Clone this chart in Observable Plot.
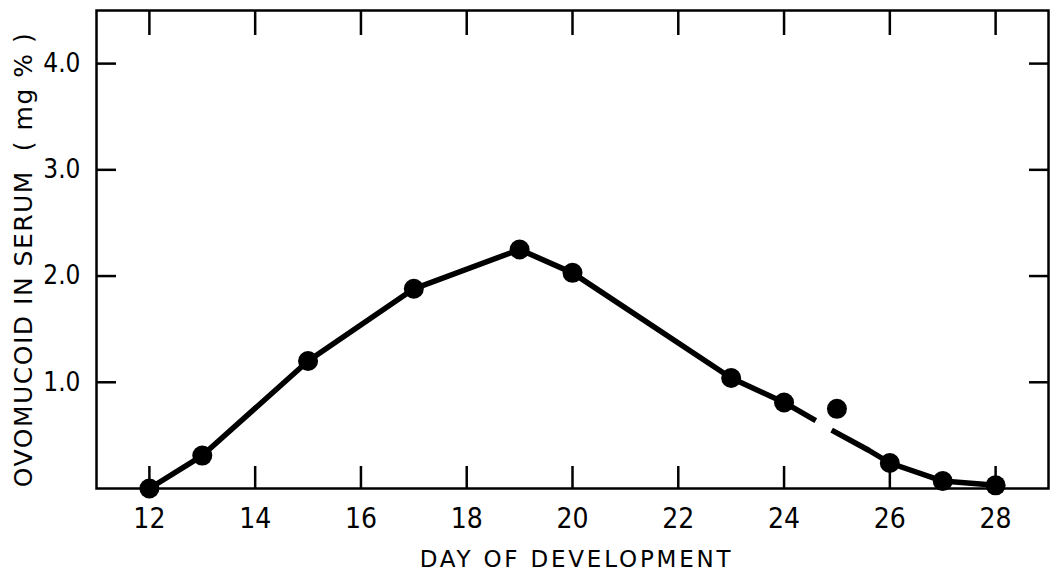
<!DOCTYPE html>
<html><head><meta charset="utf-8">
<script src="https://cdn.jsdelivr.net/npm/d3@7"></script>
<script src="https://cdn.jsdelivr.net/npm/@observablehq/plot@0.6"></script>
<style>body{margin:0;background:#fff}</style>
</head><body><div id="chart"></div>
<script>
// Measured points (day of development, ovomucoid mg %)
const days = [12, 13, 15, 17, 19, 20, 23, 24, 25, 26, 27, 28];
const ovomucoid = [0.00, 0.31, 1.20, 1.88, 2.25, 2.03, 1.04, 0.81, 0.75, 0.24, 0.07, 0.03];
// Drawn curve (passes below the day-25 point, with a break near it)
const curveDays = [12, 13, 15, 17, 19, 20, 23, 24, 24.6, 24.75, 24.9, 25.6, 26, 27, 28];
const curveValues = [0.00, 0.31, 1.20, 1.88, 2.25, 2.03, 1.04, 0.81, 0.64, NaN, 0.55, 0.36, 0.24, 0.07, 0.03];
const xTicks = [12, 14, 16, 18, 20, 22, 24, 26, 28];
const yTicks = [1, 2, 3, 4];
const yTickLabels = ["1.0", "2.0", "3.0", "4.0"];
const xTitle = "DAY OF DEVELOPMENT";
const yTitle = "OVOMUCOID IN SERUM\u00a0\u00a0( mg % )";

const points = days.map((d, i) => ({day: d, value: ovomucoid[i]}));
const curve = curveDays.map((d, i) => ({day: d, value: curveValues[i]}));

const condensed = "'DejaVu Sans Condensed', 'DejaVu Sans', sans-serif";

const chart = Plot.plot({
  width: 1054,
  height: 575,
  marginLeft: 96,
  marginRight: 6,
  marginTop: 10,
  marginBottom: 87,
  style: {fontFamily: "'DejaVu Sans', sans-serif", color: "#000", background: "#fff"},
  x: {domain: [11, 29]},
  y: {domain: [0, 4.5]},
  marks: [
    Plot.frame({strokeWidth: 2.5}),
    Plot.axisX(xTicks, {anchor: "bottom", tickSize: -22, tickPadding: 42, strokeWidth: 2.5,
      fontSize: 28, fontFamily: condensed, label: null, tickFormat: d => String(d)}),
    Plot.axisX(xTicks, {anchor: "top", tickSize: -24, strokeWidth: 2.5, label: null, tickFormat: () => ""}),
    Plot.axisY(yTicks, {anchor: "left", tickSize: -20, tickPadding: 36, strokeWidth: 2.5,
      fontSize: 26, fontFamily: condensed, label: null, tickFormat: d => yTickLabels[yTicks.indexOf(d)]}),
    Plot.axisY(yTicks, {anchor: "right", tickSize: -20, strokeWidth: 2.5, label: null, tickFormat: () => ""}),
    Plot.line(curve, {x: "day", y: "value", stroke: "#000", strokeWidth: 5.5, strokeLinecap: "butt"}),
    Plot.dot(points, {x: "day", y: "value", r: 10, fill: "#000", stroke: "none"}),
    Plot.text([xTitle], {frameAnchor: "bottom", dx: 4, dy: 71, fontSize: 23, lineAnchor: "middle"}),
    Plot.text([yTitle], {frameAnchor: "left", rotate: -90, dx: -73, dy: 10, fontSize: 25,
      textAnchor: "middle", lineAnchor: "middle"})
  ]
});

d3.select(chart).selectAll("text").each(function() {
  const t = this.textContent;
  if (t === xTitle) d3.select(this).attr("letter-spacing", "2.8px").style("white-space", "pre");
  if (t === yTitle) d3.select(this).attr("letter-spacing", "1.5px").style("white-space", "pre");
});

document.getElementById("chart").appendChild(chart);
</script>
</body></html>
